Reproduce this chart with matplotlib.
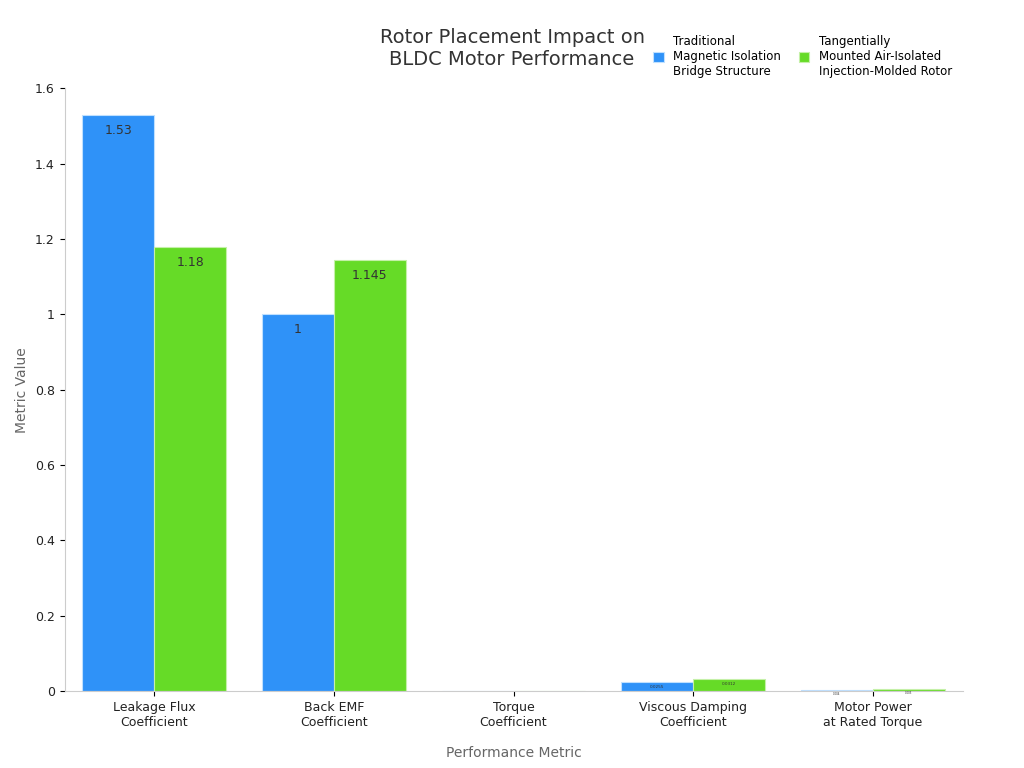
import numpy as np
import matplotlib.pyplot as plt

categories = ["Leakage Flux\nCoefficient", "Back EMF\nCoefficient", "Torque\nCoefficient",
              "Viscous Damping\nCoefficient", "Motor Power\nat Rated Torque"]
traditional = [1.53, 1.0, 0.0, 0.0255, 0.004]
tangential = [1.18, 1.145, 0.0, 0.0312, 0.005]
series_names = ["Traditional\nMagnetic Isolation\nBridge Structure",
                "Tangentially\nMounted Air-Isolated\nInjection-Molded Rotor"]
label_sizes = [9, 9, 9, 3, 2]

fig, ax = plt.subplots(figsize=(10.24, 7.68), dpi=100)
fig.subplots_adjust(left=0.063, right=0.94, top=0.885, bottom=0.1)

x = np.arange(len(categories))
w = 0.4
b1 = ax.bar(x - w / 2, traditional, w, color="#2f92f8", edgecolor="#bfe0ff", linewidth=0.8, label=series_names[0])
b2 = ax.bar(x + w / 2, tangential, w, color="#66db27", edgecolor="#c5f0a8", linewidth=0.8, label=series_names[1])

for bars, vals in ((b1, traditional), (b2, tangential)):
    for bar, v, fs in zip(bars, vals, label_sizes):
        if v <= 0:
            continue
        ax.text(bar.get_x() + bar.get_width() / 2, v - 0.008 * (fs / 9) * 3, f"{v:g}",
                ha="center", va="top", fontsize=fs, color="#333333")

ax.set_xticks(x)
ax.set_xticklabels(categories, fontsize=9, color="#222222")
ax.set_ylim(0, 1.6)
ax.set_xlim(-0.5, 4.5)
ax.set_yticks([0, 0.2, 0.4, 0.6, 0.8, 1, 1.2, 1.4, 1.6])
ax.set_yticklabels(["0", "0.2", "0.4", "0.6", "0.8", "1", "1.2", "1.4", "1.6"], fontsize=9, color="#222222")
ax.set_xlabel("Performance Metric", fontsize=10, color="#666666", labelpad=12)
ax.set_ylabel("Metric Value", fontsize=10, color="#666666")
for s in ("top", "right"):
    ax.spines[s].set_visible(False)
for s in ("left", "bottom"):
    ax.spines[s].set_color("#cccccc")

fig.text(0.5, 0.937, "Rotor Placement Impact on\nBLDC Motor Performance", ha="center", va="center",
         fontsize=14, color="#333333")
ax.legend(loc="lower right", bbox_to_anchor=(1.0, 1.0), ncol=2, frameon=False, fontsize=8.5,
          handlelength=0.9, handleheight=0.9, columnspacing=1.5)

fig.savefig("out.png")
